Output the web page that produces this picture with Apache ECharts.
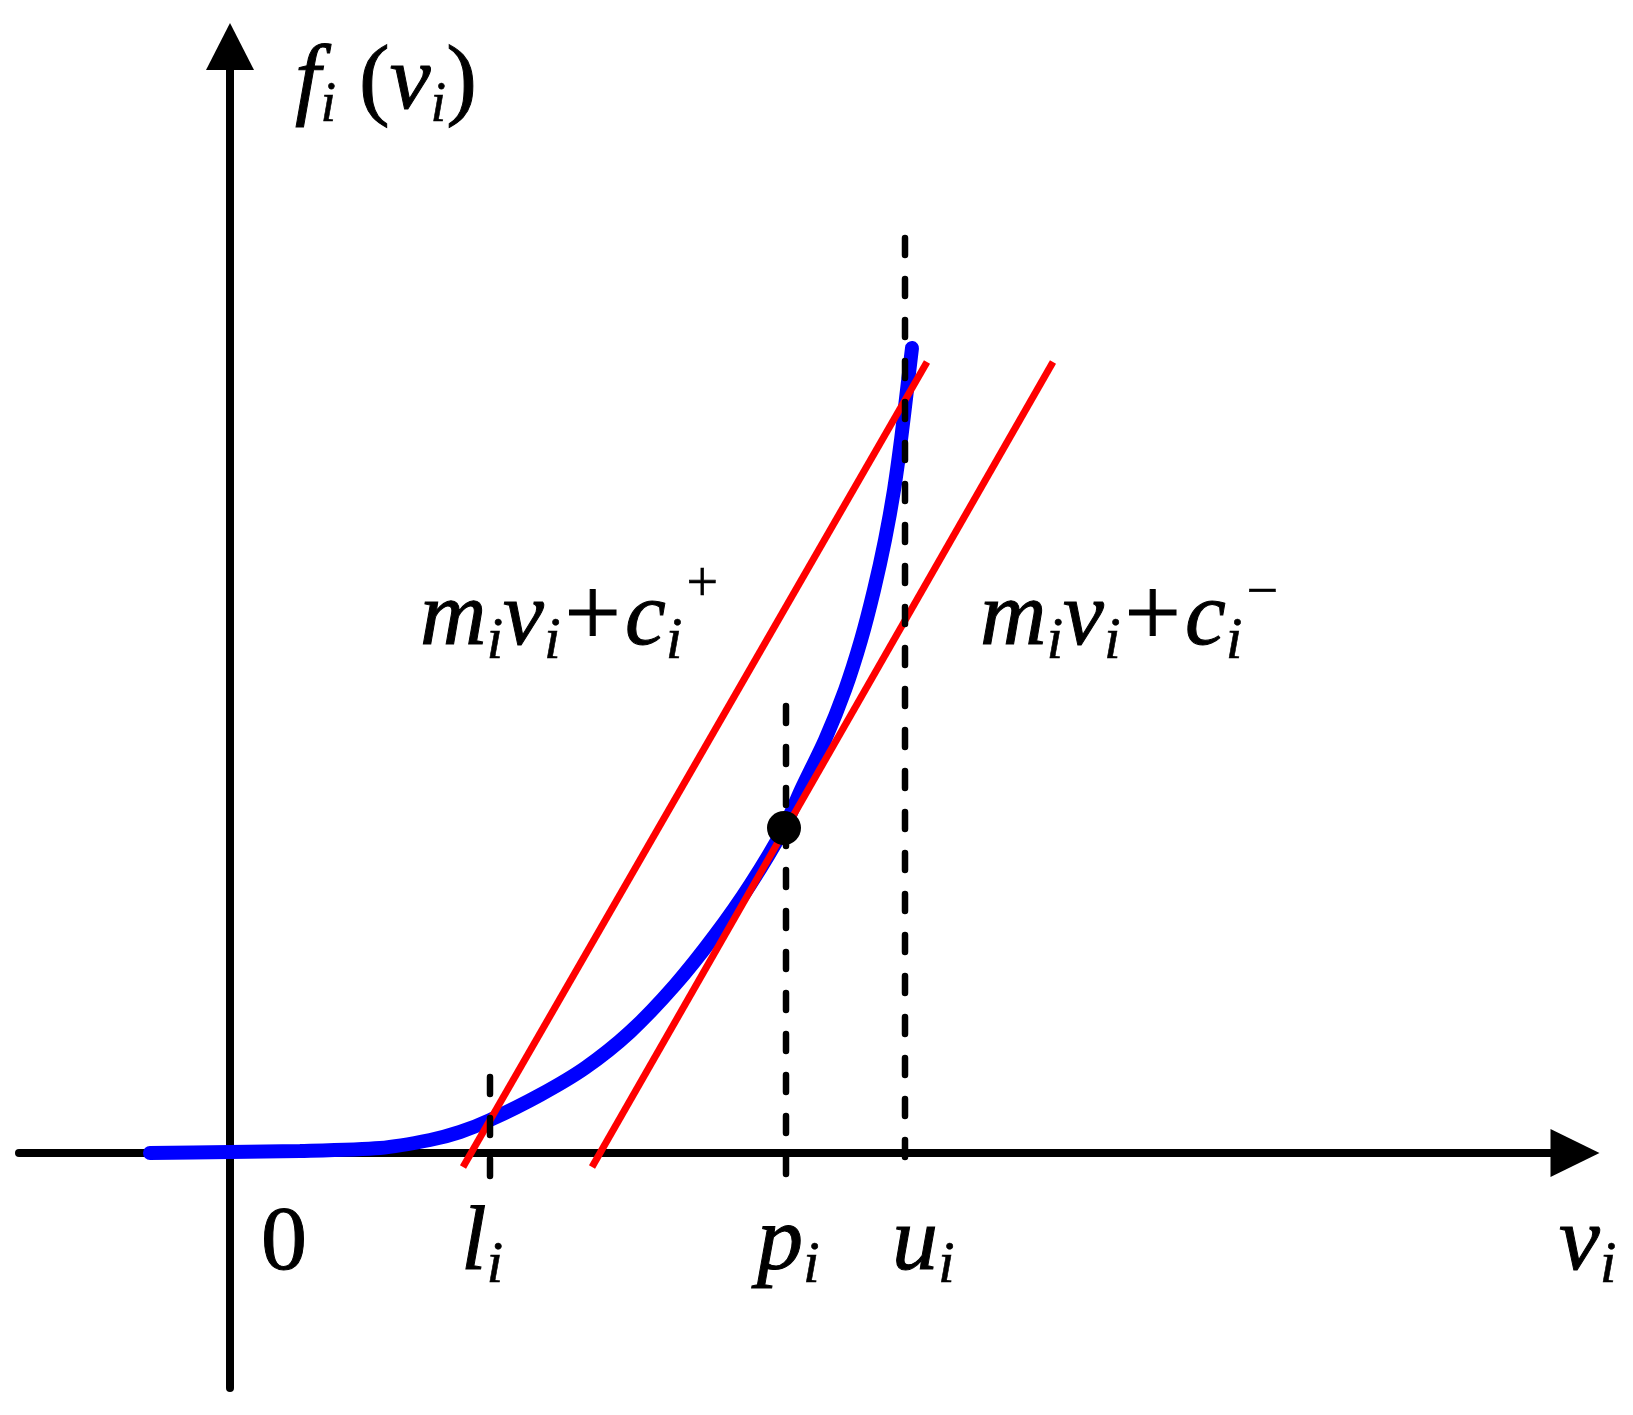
<!DOCTYPE html>
<html>
<head>
<meta charset="utf-8">
<script src="https://cdn.jsdelivr.net/npm/echarts@6/dist/echarts.min.js"></script>
<style>
html, body { margin: 0; padding: 0; background: #fff; }
#chart { width: 1633px; height: 1415px; }
</style>
</head>
<body>
<div id="chart"></div>
<script>
// convex curve f_i(v_i)
const curveV = [-0.80, 0, 0.70, 1.50, 2.00, 2.30, 2.60, 3.10, 3.55, 4.00, 4.45, 4.85, 5.20, 5.54, 5.71, 5.95, 6.15, 6.31, 6.44, 6.55, 6.64, 6.71, 6.77, 6.82];
const curveF = [0, 0.01, 0.02, 0.05, 0.13, 0.21, 0.33, 0.58, 0.85, 1.21, 1.68, 2.18, 2.68, 3.25, 3.63, 4.13, 4.63, 5.13, 5.63, 6.13, 6.63, 7.13, 7.63, 8.05];

// l_i, p_i, u_i on the v axis
const lBound = 2.60;
const pPoint = 5.56;
const uBound = 6.75;

// secant line (c+) through l and u, tangent line (c-) at p
const secantV = [2.33, 6.97];
const secantF = [-0.14, 7.91];
const tangentV = [3.62, 8.23];
const tangentF = [-0.14, 7.91];

// dashed guides: [top, bottom]
const guideL = [0.76, -0.27];
const guideP = [4.47, -0.21];
const guideU = [9.15, -0.04];

// tangent point marker
const dotV = 5.54;
const dotF = 3.25;

// text labels
const labelText = [
    '{rm|0}',
    '{it|l}{s|i}',
    '{it|p}{s|i}',
    '{it|u}{s|i}',
    '{it|v}{s|i}',
    '{it|f}{sf|i}{rm| (}{it|v}{sf|i}{rm|)}',
    '{it|m}{sm|i}{it|v}{sm|i}{pl|+}{it|c}{sm|i}{sp|+}',
    '{it|m}{sm|i}{it|v}{sm|i}{pl|+}{it|c}{sm|i}{sn|\u2212}'
];
const labelAt = [
    [0.31, -0.92], [2.31, -0.92], [5.27, -0.92], [6.62, -0.92], [13.29, -0.92],
    [0.65, 10.69], [1.90, 5.33], [7.50, 5.33]
];

const zip = (a, b) => a.map((v, i) => [v, b[i]]);
const font = "'Liberation Serif', 'Times New Roman', serif";

const chart = echarts.init(document.getElementById('chart'), null, { renderer: 'canvas' });

const dashStyle = { color: '#000', width: 6.5, type: [17, 24], cap: 'round' };
// tokens sit on the line centre; top padding pushes a token down, bottom padding lifts it
const txt = (size, lh, extra) => Object.assign({
    fontFamily: font, fontSize: size, lineHeight: lh, color: '#000',
    textBorderColor: '#000', textBorderWidth: 1
}, extra);

chart.setOption({
    animation: false,
    backgroundColor: '#fff',
    grid: { left: 19, top: 46.5, width: 1556, height: 1341.5 },
    xAxis: {
        type: 'value', min: -2.11, max: 13.45,
        axisLine: { show: true, onZero: true, symbol: ['none', 'triangle'], symbolSize: [48, 49], lineStyle: { color: '#000', width: 8 } },
        axisTick: { show: false }, axisLabel: { show: false }, splitLine: { show: false }
    },
    yAxis: {
        type: 'value', min: -2.35, max: 11.065,
        axisLine: { show: true, onZero: true, symbol: ['none', 'triangle'], symbolSize: [48, 47], lineStyle: { color: '#000', width: 8 } },
        axisTick: { show: false }, axisLabel: { show: false }, splitLine: { show: false }
    },
    series: [
        {
            name: 'f', type: 'line', z: 2, data: zip(curveV, curveF),
            smooth: 0.25, showSymbol: false, symbol: 'none',
            lineStyle: { color: '#0000ff', width: 14, cap: 'round' }
        },
        {
            name: 'secant', type: 'line', z: 3, data: zip(secantV, secantF),
            showSymbol: false, symbol: 'none', lineStyle: { color: '#ff0000', width: 7 }
        },
        {
            name: 'tangent', type: 'line', z: 3, data: zip(tangentV, tangentF),
            showSymbol: false, symbol: 'none', lineStyle: { color: '#ff0000', width: 7 }
        },
        { name: 'l', type: 'line', z: 4, data: guideL.map(y => [lBound, y]), showSymbol: false, symbol: 'none', lineStyle: dashStyle },
        { name: 'p', type: 'line', z: 4, data: guideP.map(y => [pPoint, y]), showSymbol: false, symbol: 'none', lineStyle: dashStyle },
        { name: 'u', type: 'line', z: 4, data: guideU.map(y => [uBound, y]), showSymbol: false, symbol: 'none', lineStyle: dashStyle },
        {
            name: 'dot', type: 'scatter', z: 5, data: [[dotV, dotF]],
            symbol: 'circle', symbolSize: 34, itemStyle: { color: '#000', opacity: 1 }
        },
        {
            name: 'labels', type: 'scatter', z: 6, symbolSize: 0,
            itemStyle: { opacity: 1 },
            data: labelAt.map((p, i) => ({ value: p, name: labelText[i] })),
            label: {
                show: true, position: [0, 0], align: 'left', verticalAlign: 'middle', opacity: 1,
                formatter: p => p.name,
                rich: {
                    it: txt(92, 92, { fontStyle: 'italic' }),
                    rm: txt(92, 92),
                    pl: txt(100, 92, { padding: [0, 4, 0, 4] }),
                    s: txt(60, 50, { fontStyle: 'italic', padding: [42, 0, 0, 0], textBorderWidth: 0.6 }),
                    sf: txt(56, 46, { fontStyle: 'italic', padding: [44, 0, 0, 0], textBorderWidth: 0.6 }),
                    sm: txt(60, 48, { fontStyle: 'italic', padding: [44, 0, 0, 0], textBorderWidth: 0.6 }),
                    sp: txt(56, 24, { padding: [0, 0, 67, 4], textBorderWidth: 0.6 }),
                    sn: txt(56, 24, { padding: [0, 0, 52, 4], textBorderWidth: 0.6 })
                }
            }
        }
    ]
});
</script>
</body>
</html>
